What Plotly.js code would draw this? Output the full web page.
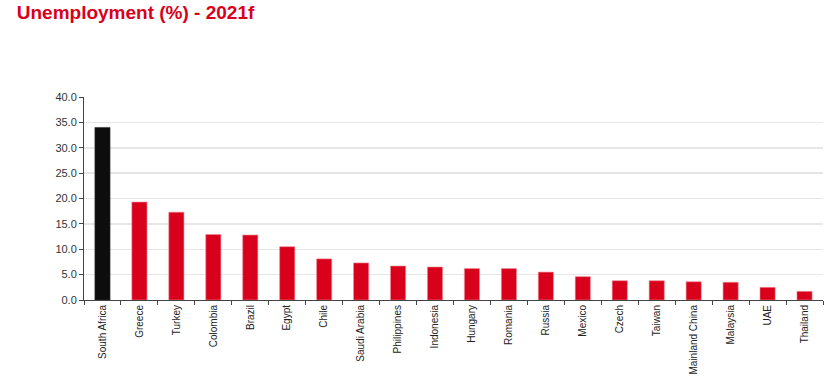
<!DOCTYPE html>
<html>
<head>
<meta charset="utf-8">
<script src="https://cdn.plot.ly/plotly-3.0.1.min.js"></script>
<style>html,body{margin:0;padding:0;background:#fff;}#chart{width:838px;height:377px;}</style>
</head>
<body>
<div id="chart"></div>
<script>
var countries = ["South Africa","Greece","Turkey","Colombia","Brazil","Egypt","Chile","Saudi Arabia","Philippines","Indonesia","Hungary","Romania","Russia","Mexico","Czech","Taiwan","Mainland China","Malaysia","UAE","Thailand"];
var unemployment = [34.0,19.3,17.3,12.9,12.8,10.5,8.1,7.3,6.7,6.5,6.2,6.2,5.5,4.6,3.8,3.8,3.6,3.5,2.5,1.7];
var highlightCountry = "South Africa";
var yTicks = [0,5,10,15,20,25,30,35,40];

var colors = countries.map(function(c){ return c === highlightCountry ? "#0d0d0d" : "#d9001b"; });
var lineColors = countries.map(function(c){ return c === highlightCountry ? "#333333" : "#f08a96"; });

var trace = {
  type: "bar",
  x: countries,
  y: unemployment,
  marker: {color: colors, line: {color: lineColors, width: 0.6}},
  hoverinfo: "x+y"
};

var layout = {
  width: 838, height: 377,
  margin: {l: 84, r: 15, t: 97, b: 77},
  paper_bgcolor: "#ffffff", plot_bgcolor: "#ffffff",
  bargap: 0.59,
  showlegend: false,
  title: {
    text: "<b>Unemployment (%) - 2021f</b>",
    font: {family: "Liberation Sans, Arial, sans-serif", size: 19, color: "#d9001b"},
    x: 0.02, xanchor: "left", xref: "container",
    y: 0.985, yanchor: "top", yref: "container"
  },
  xaxis: {
    type: "category",
    tickson: "boundaries",
    ticks: "outside", ticklen: 4, tickcolor: "#444",
    showline: true, linecolor: "#444", linewidth: 1,
    showgrid: false,
    tickangle: -90,
    tickfont: {family: "Liberation Sans, Arial, sans-serif", size: 10, color: "#222"}
  },
  yaxis: {
    range: [0, 40],
    tickvals: yTicks,
    ticktext: yTicks.map(function(v){ return v.toFixed(1); }),
    ticks: "outside", ticklen: 4, tickcolor: "#444",
    showline: true, linecolor: "#444", linewidth: 1,
    showgrid: true, gridcolor: "#e6e6e6", gridwidth: 1.5,
    zeroline: false,
    tickfont: {family: "Liberation Sans, Arial, sans-serif", size: 11, color: "#333"}
  }
};

Plotly.newPlot("chart", [trace], layout, {displayModeBar: false, staticPlot: true});
</script>
</body>
</html>
